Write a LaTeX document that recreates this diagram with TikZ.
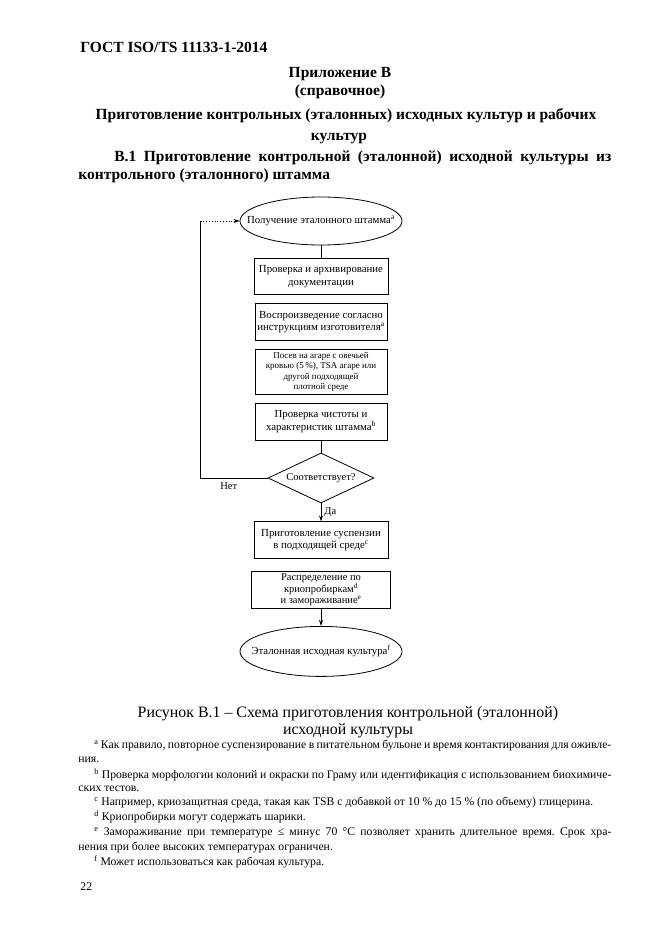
\documentclass[tikz,border=0pt]{standalone}
\usepackage{fontspec}
\setmainfont{Liberation Serif}
\frenchspacing
\usetikzlibrary{positioning,arrows.meta,shapes.geometric}
\tikzset{
    cultterm/.style={draw, ellipse, align=center, minimum width=162pt, minimum height=48pt, inner xsep=-18pt, inner ysep=0pt, font=\fontsize{10.8}{13}\selectfont},
    cultbox/.style={draw, rectangle, align=center, minimum width=132pt, minimum height=37pt, inner sep=1pt, font=\fontsize{10.8}{12.5}\selectfont},
    cultdecision/.style={draw, diamond, aspect=2.1, inner sep=0pt, minimum width=106pt, minimum height=50pt, font=\fontsize{10.5}{12}\selectfont},
    cultarrow/.style={draw, -{Stealth[length=6pt, width=4pt]}},
    cultline/.style={draw},
    cultloop/.style={draw, dotted, -{Stealth[length=6pt, width=4pt]}},
    cultlabel/.style={inner sep=0pt, font=\fontsize{10.5}{12}\selectfont},
    culthead/.style={inner sep=0pt, font=\fontsize{15.5}{18}\selectfont\bfseries},
    cultcaption/.style={inner sep=0pt, font=\fontsize{15.9}{18}\selectfont},
    cultnote/.style={inner sep=0pt, anchor=west, font=\fontsize{11.7}{14}\selectfont}
}

\begin{document}
\begin{tikzpicture}[x=1pt, y=-1pt, line width=0.8pt]
    \fill[white] (0,0) rectangle (661,935);
    \useasboundingbox (0,0) rectangle (661,935);

    % page head
    \node[culthead, anchor=west] (std) at (80,47) {ГОСТ ISO/TS 11133-1-2014};
    \node[culthead] (annex) at (340,74) {Приложение В};
    \node[culthead] (annexkind) at (340,92) {(справочное)};
    \node[culthead] (title1) at (346,116) {Приготовление контрольных (эталонных) исходных культур и рабочих};
    \node[culthead] (title2) at (339,139) {культур};
    \node[culthead, anchor=west] (sect1) at (114,158) {\makebox[497pt][s]{В.1 Приготовление контрольной (эталонной) исходной культуры из}};
    \node[culthead, anchor=west] (sect2) at (78,176) {контрольного (эталонного) штамма};

    % flowchart
    \node[cultterm] (strain) at (321,221) {Получение эталонного штамма\textsuperscript{a}};
    \node[cultbox, below=13pt of strain, minimum width=134pt, minimum height=36pt] (docs) {Проверка и архивирование\\документации};
    \node[cultbox, below=8pt of docs] (revive) {Воспроизведение согласно\\инструкциям изготовителя\textsuperscript{a}};
    \node[cultbox, below=8pt of revive, minimum height=45pt, font=\fontsize{9}{10.5}\selectfont] (plate) {Посев на агаре с овечьей\\кровью (5\,\%), TSA агаре или\\другой подходящей\\плотной среде};
    \node[cultbox, below=8pt of plate] (purity) {Проверка чистоты и\\характеристик штамма\textsuperscript{b}};
    \node[cultdecision, below=12pt of purity] (match) {Соответствует?};
    \node[cultbox, below=18pt of match, minimum width=134pt] (susp) {Приготовление суспензии\\в подходящей среде\textsuperscript{c}};
    \node[cultbox, below=12pt of susp, minimum width=139pt, font=\fontsize{10.5}{11.5}\selectfont] (freeze) {Распределение по\\криопробиркам\textsuperscript{d}\\и замораживание\textsuperscript{e}};
    \node[cultterm, below=17pt of freeze, minimum height=50pt] (stock) {Эталонная исходная культура\textsuperscript{f}};

    \draw[cultline] (strain) -- (docs);
    \draw[cultline] (purity) -- (match);
    \draw[cultarrow] (match) -- node[cultlabel, right=3pt] (yes) {Да} (susp);
    \draw[cultarrow] (freeze) -- (stock);
    \coordinate[left=39pt of strain.west] (looptop);
    \draw[cultline] (match.west) -| (looptop);
    \draw[cultloop] (looptop) -- (strain.west);
    \node[cultlabel, below left=4pt and 30pt of match.west] (no) {Нет};

    % caption and notes
    \node[cultcaption] (cap1) at (348,714) {Рисунок В.1 -- Схема приготовления контрольной (эталонной)};
    \node[cultcaption] (cap2) at (348,731) {исходной культуры};
    \node[cultnote] (notea1) at (94,746) {\makebox[517pt][s]{\textsuperscript{a} Как правило, повторное суспензирование в питательном бульоне и время контактирования для оживле-}};
    \node[cultnote] (notea2) at (78,760) {ния.};
    \node[cultnote] (noteb1) at (94,775) {\makebox[517pt][s]{\textsuperscript{b} Проверка морфологии колоний и окраски по Граму или идентификация с использованием биохимиче-}};
    \node[cultnote] (noteb2) at (78,789) {ских тестов.};
    \node[cultnote] (notec) at (94,803) {\textsuperscript{c} Например, криозащитная среда, такая как TSB с добавкой от 10 \% до 15 \% (по объему) глицерина.};
    \node[cultnote] (noted) at (94,817) {\textsuperscript{d} Криопробирки могут содержать шарики.};
    \node[cultnote] (notee1) at (94,833) {\makebox[517pt][s]{\textsuperscript{e} Замораживание при температуре ≤ минус 70 °С позволяет хранить длительное время. Срок хра-}};
    \node[cultnote] (notee2) at (78,848) {нения при более высоких температурах ограничен.};
    \node[cultnote] (notef) at (94,862) {\textsuperscript{f} Может использоваться как рабочая культура.};
    \node[cultnote] (page) at (80,887) {22};
\end{tikzpicture}
\end{document}
